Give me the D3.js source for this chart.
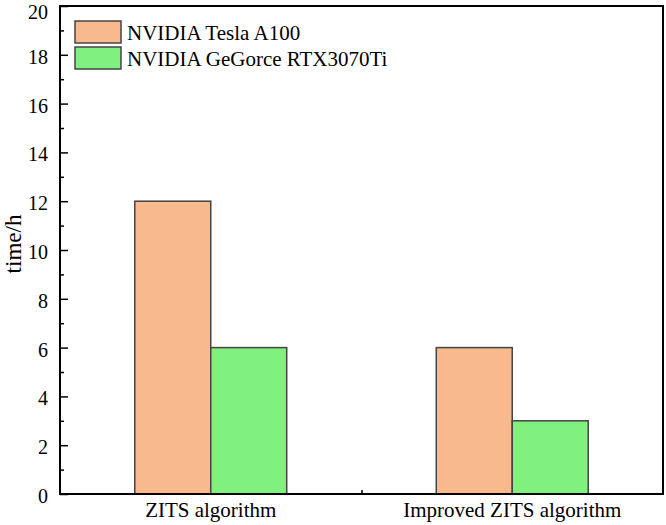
<!DOCTYPE html>
<html>
<head>
<meta charset="utf-8">
<script src="https://cdn.jsdelivr.net/npm/d3@7"></script>
<style>
  body { margin: 0; background: #fff; }
  svg { display: block; font-family: "Liberation Serif", "Times New Roman", serif; }
</style>
</head>
<body>
<svg id="chart" width="666" height="525"></svg>
<script>
const categories = ["ZITS algorithm", "Improved ZITS algorithm"];
const seriesNames = ["NVIDIA Tesla A100", "NVIDIA GeGorce RTX3070Ti"];
const a100Values = [12, 6];
const rtxValues = [6, 3];
const yTicks = [0, 2, 4, 6, 8, 10, 12, 14, 16, 18, 20];
const yMinorTicks = [1, 3, 5, 7, 9, 11, 13, 15, 17, 19];
const colors = ["#F8B98C", "#80F07E"];

const seriesValues = [a100Values, rtxValues];
const FONT = "Liberation Serif, Times New Roman, serif";

const svg = d3.select("#chart");
const m = { left: 60, right: 663, top: 6, bottom: 494 };

const x = d3.scaleBand().domain(categories).range([m.left, m.right]).padding(0);
const groupW = x.bandwidth() * 0.504;
const x1 = d3.scaleBand().domain(seriesNames).range([0, groupW]).padding(0);
const y = d3.scaleLinear().domain([0, 20]).range([m.bottom, m.top]);

// bars
categories.forEach((c, ci) => {
  const gx = x(c) + (x.bandwidth() - groupW) / 2;
  seriesNames.forEach((s, si) => {
    const v = seriesValues[si][ci];
    svg.append("rect")
      .attr("x", gx + x1(s))
      .attr("y", y(v))
      .attr("width", x1.bandwidth())
      .attr("height", y(0) - y(v))
      .attr("fill", colors[si])
      .attr("stroke", "#444")
      .attr("stroke-width", 1.5);
  });
});

// left axis
const yAxis = d3.axisLeft(y).tickValues(yTicks).tickSize(-8).tickPadding(12).tickSizeOuter(0);
const gy = svg.append("g").attr("transform", `translate(${m.left},0)`).call(yAxis);
gy.select(".domain").remove();
gy.selectAll(".tick line").attr("stroke", "#000").attr("stroke-width", 1.5);
gy.selectAll(".tick text").attr("font-size", 20).attr("fill", "#000")
  .attr("dy", d => d === 20 ? "0.6em" : "0.42em").attr("font-family", FONT);

const yMinor = d3.axisLeft(y).tickValues(yMinorTicks).tickSize(-4).tickFormat("").tickSizeOuter(0);
const gym = svg.append("g").attr("transform", `translate(${m.left},0)`).call(yMinor);
gym.select(".domain").remove();
gym.selectAll(".tick line").attr("stroke", "#000").attr("stroke-width", 1.5);

// bottom axis: tick between groups
const xb = d3.scaleLinear().domain([0, categories.length]).range([m.left, m.right]);
const xAxis = d3.axisBottom(xb).tickValues([1]).tickSize(-4).tickFormat("").tickSizeOuter(0);
const gx = svg.append("g").attr("transform", `translate(0,${m.bottom})`).call(xAxis);
gx.select(".domain").remove();
gx.selectAll(".tick line").attr("stroke", "#000").attr("stroke-width", 1.5);

// category labels
svg.selectAll("text.cat").data(categories).enter().append("text")
  .attr("class", "cat")
  .attr("x", d => x(d) + x.bandwidth() / 2)
  .attr("y", 517)
  .attr("text-anchor", "middle")
  .attr("font-size", 21)
  .text(d => d);

// frame
svg.append("rect")
  .attr("x", m.left).attr("y", m.top)
  .attr("width", m.right - m.left).attr("height", m.bottom - m.top)
  .attr("fill", "none").attr("stroke", "#000").attr("stroke-width", 2);

// y label
svg.append("text")
  .attr("transform", `translate(21,244) rotate(-90)`)
  .attr("text-anchor", "middle")
  .attr("font-size", 23)
  .text("time/h");

// legend
seriesNames.forEach((s, i) => {
  const ly = 21 + i * 26;
  svg.append("rect")
    .attr("x", 75).attr("y", ly).attr("width", 46).attr("height", 22)
    .attr("fill", colors[i]).attr("stroke", "#444").attr("stroke-width", 1.5);
  svg.append("text")
    .attr("x", 127).attr("y", ly + 19)
    .attr("font-size", 21)
    .text(s);
});
</script>
</body>
</html>
